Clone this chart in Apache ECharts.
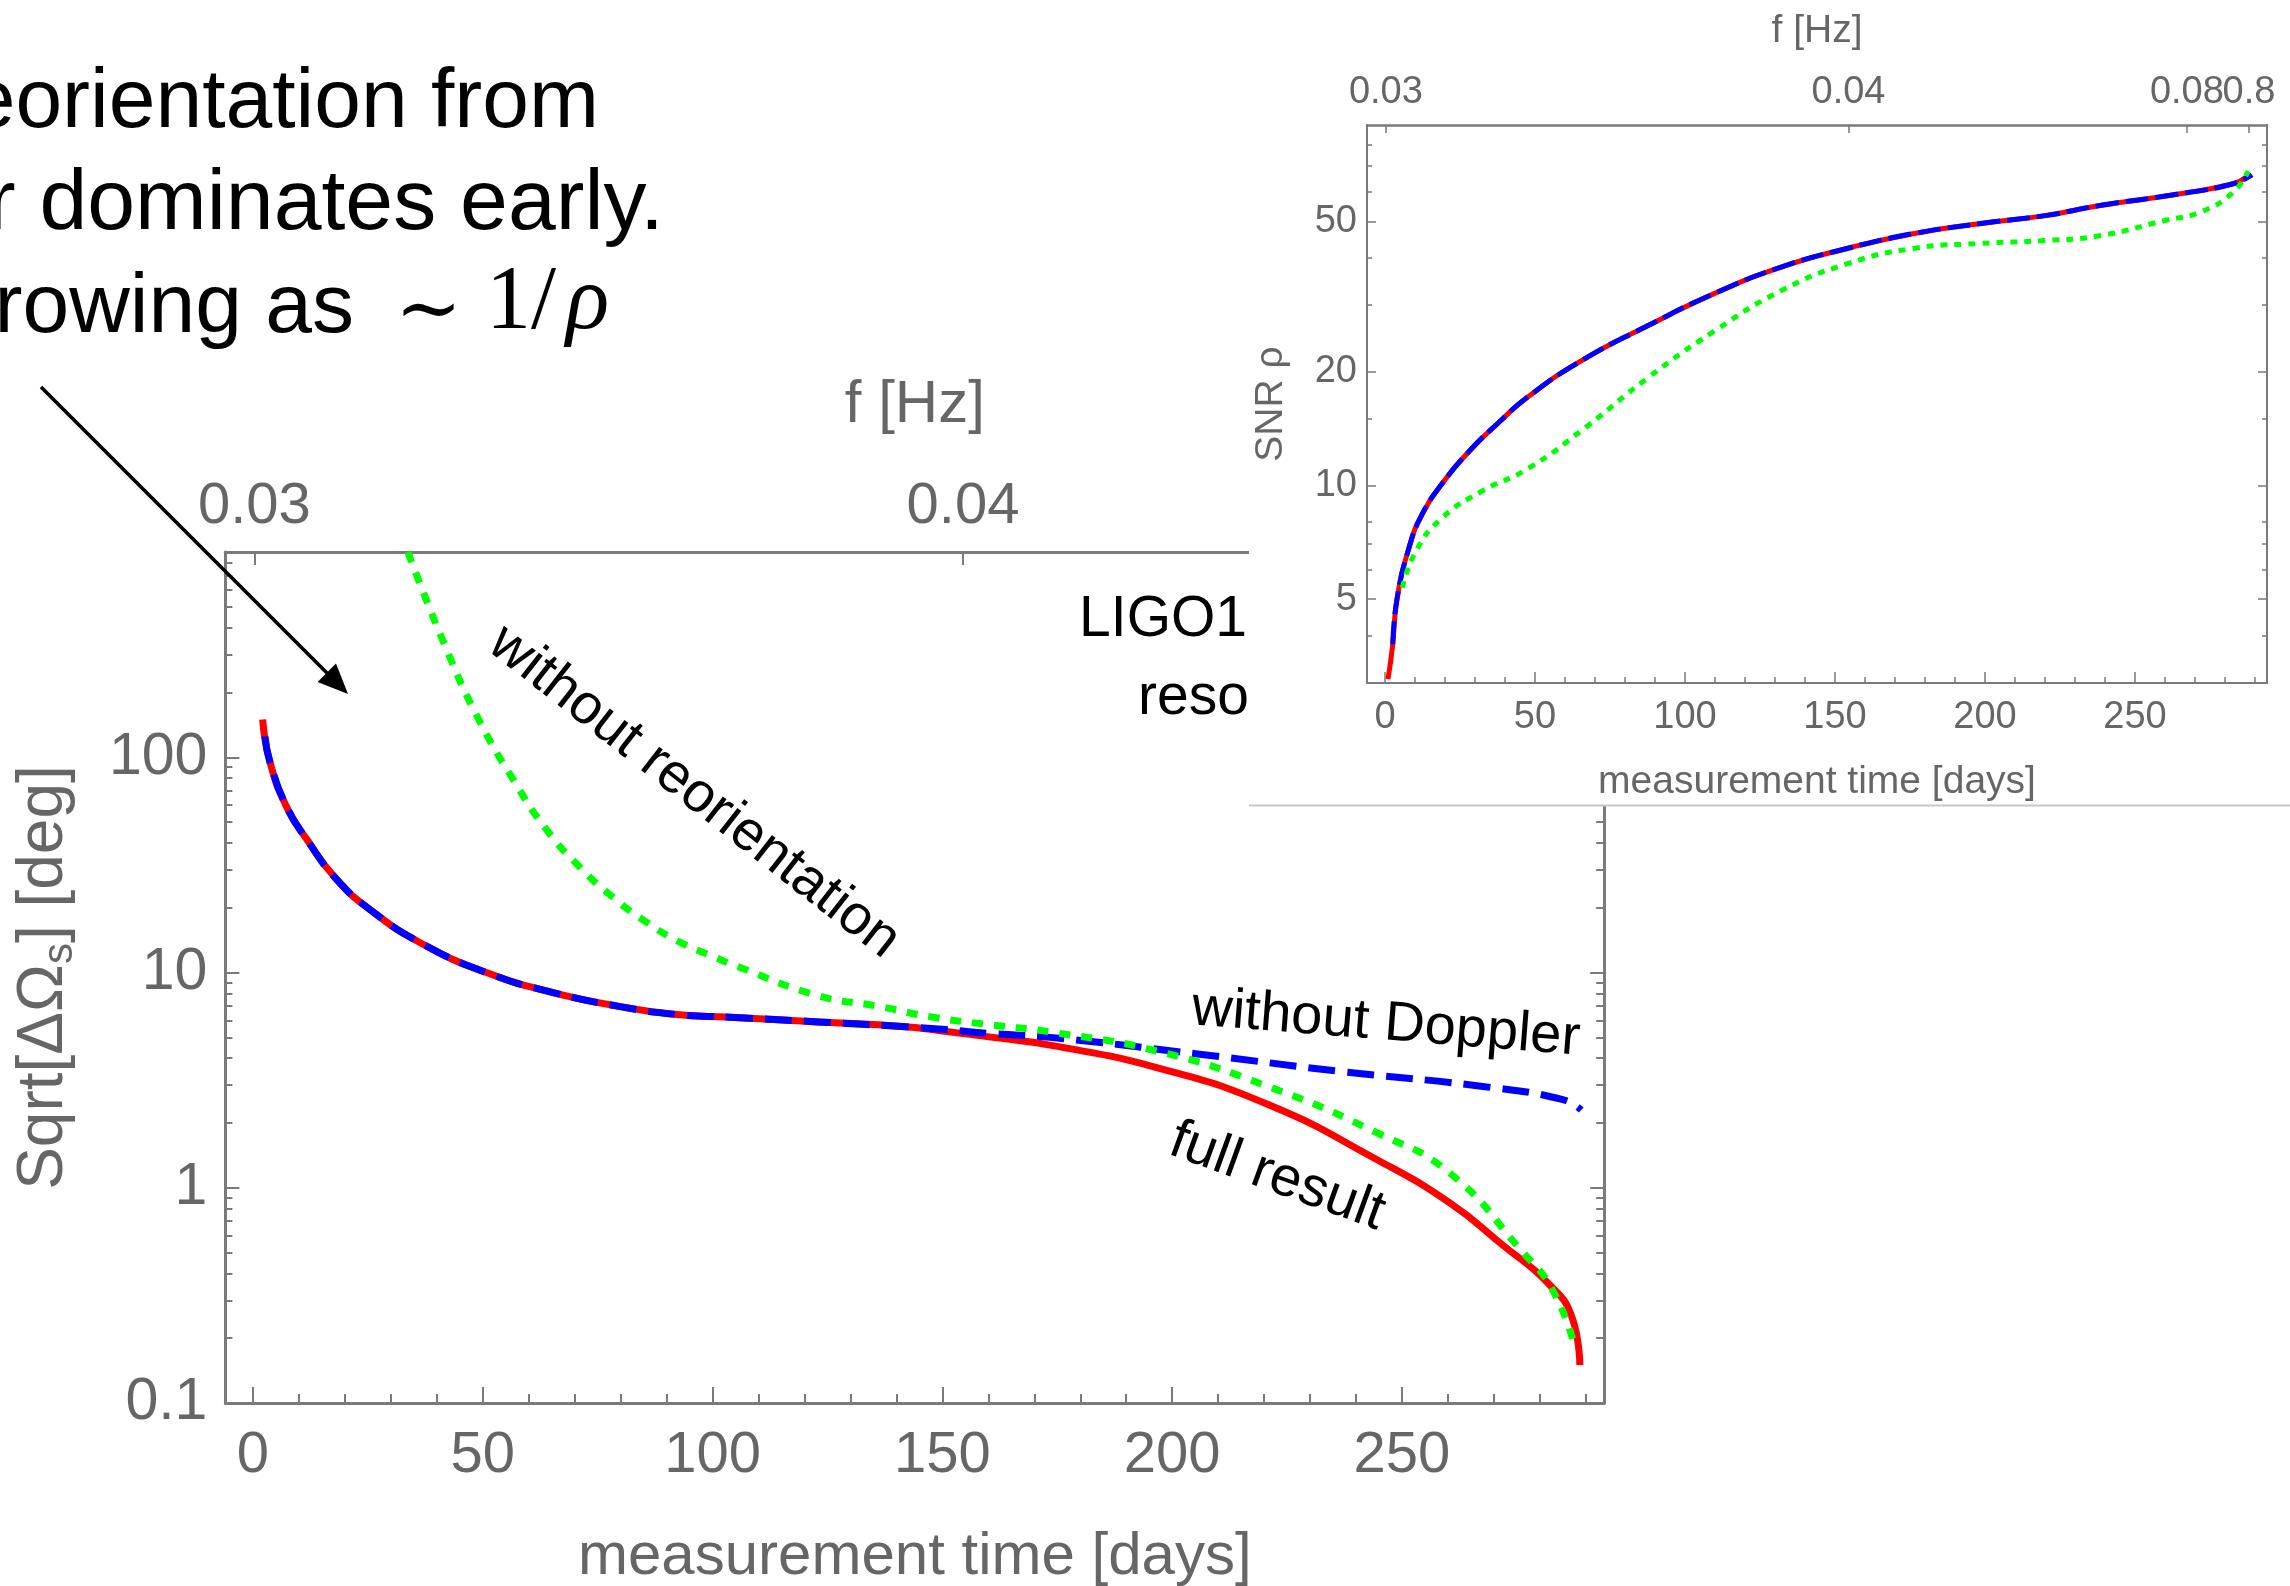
<!DOCTYPE html>
<html><head><meta charset="utf-8">
<script src="https://cdn.jsdelivr.net/npm/echarts@6/dist/echarts.min.js"></script>
<style>html,body{margin:0;padding:0;background:#fff;overflow:hidden}#c{width:2290px;height:1586px}</style>
</head><body><div id="c"></div>
<script>
// ---------------- data (main panel: sky localization) ----------------
const fullDays = [2.1, 3.7, 7.3, 11.7, 18.2, 25.5, 36.3, 50.8, 65.3, 79.9, 92.2, 103.8, 123, 142, 150, 161, 173.4, 197, 221, 244.6, 260.4, 272, 281.8, 287, 288.7];
const fullVals = [150, 95, 59, 41.6, 27.1, 19.6, 13.8, 10.0, 8.07, 6.95, 6.38, 6.2, 5.9, 5.6, 5.35, 5.0, 4.6, 3.6, 2.43, 1.35, 0.85, 0.54, 0.36, 0.25, 0.15];
const noDopDays = [2.6, 3.7, 7.3, 11.7, 18.2, 25.5, 36.3, 50.8, 65.3, 79.9, 92.2, 103.8, 123, 142, 150, 161, 173.4, 205, 236.7, 268, 285, 289];
const noDopVals = [125, 95, 59, 41.6, 27.1, 19.6, 13.8, 10.0, 8.07, 6.95, 6.38, 6.2, 5.9, 5.6, 5.45, 5.2, 5.0, 4.2, 3.47, 2.95, 2.57, 2.3];
const noReoDays = [33.7, 42.1, 49.4, 56.6, 63.9, 71.2, 78.4, 85.7, 93, 100, 105.3, 123, 135.6, 148, 161, 173.4, 197, 221, 244.6, 260.4, 276, 282.6, 287.4];
const noReoVals = [900, 318, 146, 79, 46, 30.8, 22.3, 17.1, 13.8, 11.9, 10.7, 7.8, 7.0, 6.2, 5.7, 5.3, 4.3, 2.95, 1.8, 1.17, 0.51, 0.34, 0.19];

// ---------------- data (inset: SNR) ----------------
const snrFullDays = [1.0, 2.5, 4, 8, 12.4, 19, 28, 38, 47.8, 65.5, 87.7, 109.7, 131.8, 154, 176, 198, 220, 238.3, 264, 282.7, 287];
const snrFullVals = [3.07, 3.75, 5.0, 6.84, 8.4, 10.1, 12.3, 14.7, 17.2, 21.4, 26.5, 32.2, 37.8, 42.4, 46.4, 49.3, 51.8, 55.1, 59.0, 62.9, 65.5];
const snrNoDopDays = [2.6, 4, 8, 12.4, 19, 28, 38, 47.8, 65.5, 87.7, 109.7, 131.8, 154, 176, 198, 220, 238.3, 264, 282.7, 289];
const snrNoDopVals = [3.8, 5.0, 6.84, 8.4, 10.1, 12.3, 14.7, 17.2, 21.4, 26.5, 32.2, 37.8, 42.4, 46.4, 49.3, 51.8, 55.1, 59.0, 62.9, 66.5];
const snrNoReoDays = [5.8, 10.3, 19, 32.3, 47.8, 66.6, 87.7, 109.7, 131.8, 154, 176, 198, 220, 238, 260, 271.7, 282.7, 287.7];
const snrNoReoVals = [5.36, 6.7, 8.2, 9.66, 11.1, 14.2, 19.3, 25.6, 32.7, 38.6, 42.4, 43.7, 44.5, 45.8, 50.3, 52.9, 59.7, 68];

// ---------------- ticks ----------------
const dayTicks = [0, 50, 100, 150, 200, 250];
const dayMinorTicks = [10, 20, 30, 40, 60, 70, 80, 90, 110, 120, 130, 140, 160, 170, 180, 190, 210, 220, 230, 240, 260, 270, 280, 290];
const mainFreqLabels = ['0.03', '0.04'];
const mainFreqDays = [0.3, 154.5];
const insetFreqLabels = ['0.03', '0.04', '0.08'];
const insetFreqDays = [0.3, 154.5, 267.3];
const insetFreqLabels2 = ['0.8'];
const insetFreqDays2 = [288];
const mainYTicks = [0.1, 1, 10, 100];
const mainYLabels = ['0.1', '1', '10', '100'];
const mainYMinor = [0.2,0.3,0.4,0.5,0.6,0.7,0.8,0.9, 2,3,4,5,6,7,8,9, 20,30,40,50,60,70,80,90, 200,300,400,500,600,700,800];
const insetYTicks = [5, 10, 20, 50];
const insetYLabels = ['5', '10', '20', '50'];
const insetYMinor = [4, 6, 7, 8, 15, 30, 40, 60, 70, 80];

const zip = (a, b) => a.map((x, i) => [x, b[i]]);
const FONT = '"Liberation Sans", Arial, Helvetica, sans-serif';
const AX = '#7a7a7a', LAB = '#666666';

const mainGrid = {left: 225.4, top: 552, width: 1378.8, height: 851};
const insetGrid = {left: 1367, top: 125, width: 900, height: 558};

function lookup(vals, labels) {
  return function (v) {
    let best = 0, bd = Infinity;
    vals.forEach((x, i) => { const d = Math.abs(Math.log(x) - Math.log(v)); if (d < bd) { bd = d; best = i; } });
    return labels[best];
  };
}
function lookupLin(vals, labels) {
  return function (v) {
    let best = 0, bd = Infinity;
    vals.forEach((x, i) => { const d = Math.abs(x - v); if (d < bd) { bd = d; best = i; } });
    return labels[best];
  };
}

function topAxis(grid, days, labels, z, fs, margin, len, lw, name, nameGap, nfs) {
  const a = {type: 'value', gridIndex: grid, min: -6, max: 294, position: 'top', z: z, splitLine: {show: false},
   axisLine: {show: !!name, onZero: false, lineStyle: {color: AX, width: lw + 1}},
   axisTick: {show: true, inside: true, length: len, customValues: days, lineStyle: {color: AX, width: lw}},
   axisLabel: {show: true, customValues: days, formatter: lookupLin(days, labels), fontSize: fs, color: LAB, fontFamily: FONT, margin: margin, hideOverlap: false}};
  if (name) {
    a.name = name; a.nameLocation = 'middle'; a.nameGap = nameGap;
    a.nameTextStyle = {fontSize: nfs, color: LAB, fontFamily: FONT};
  }
  return a;
}

const xAxes = [
  // 0 main bottom major
  {type: 'value', gridIndex: 0, min: -6, max: 294, position: 'bottom', splitLine: {show: false},
   axisLine: {show: true, onZero: false, lineStyle: {color: AX, width: 3}},
   axisTick: {show: true, inside: true, length: 16, customValues: dayTicks, lineStyle: {color: AX, width: 2}},
   axisLabel: {show: true, customValues: dayTicks, fontSize: 58, color: LAB, fontFamily: FONT, margin: 24, hideOverlap: false},
   name: 'measurement time [days]', nameLocation: 'middle', nameGap: 124,
   nameTextStyle: {fontSize: 60, color: LAB, fontFamily: FONT}},
  // 1 main bottom minor
  {type: 'value', gridIndex: 0, min: -6, max: 294, position: 'bottom', splitLine: {show: false},
   axisLine: {show: false, onZero: false},
   axisTick: {show: true, inside: true, length: 9, customValues: dayMinorTicks, lineStyle: {color: AX, width: 2}},
   axisLabel: {show: false}},
  // 2 main top (frequency)
  topAxis(0, mainFreqDays, mainFreqLabels, 0, 58, 16, 13, 2, 'f [Hz]', 117, 60),
  // 3 inset bottom major
  {type: 'value', gridIndex: 1, min: -6, max: 294, position: 'bottom', z: 20, splitLine: {show: false},
   axisLine: {show: true, onZero: false, lineStyle: {color: AX, width: 2}},
   axisTick: {show: true, inside: true, length: 11, customValues: dayTicks, lineStyle: {color: AX, width: 1.5}},
   axisLabel: {show: true, customValues: dayTicks, fontSize: 38, color: LAB, fontFamily: FONT, margin: 16, hideOverlap: false},
   name: 'measurement time [days]', nameLocation: 'middle', nameGap: 80,
   nameTextStyle: {fontSize: 39, color: LAB, fontFamily: FONT}},
  // 4 inset bottom minor
  {type: 'value', gridIndex: 1, min: -6, max: 294, position: 'bottom', z: 20, splitLine: {show: false},
   axisLine: {show: false, onZero: false},
   axisTick: {show: true, inside: true, length: 6, customValues: dayMinorTicks, lineStyle: {color: AX, width: 1.5}},
   axisLabel: {show: false}},
  // 5 inset top (frequency)
  topAxis(1, insetFreqDays, insetFreqLabels, 20, 38, 13, 8, 1.5, 'f [Hz]', 74, 39),
  // 6 inset top, last label (overlaps its neighbour in the original)
  topAxis(1, insetFreqDays2, insetFreqLabels2, 20, 38, 13, 8, 1.5, null)
];

function yAx(o) {
  const base = {type: 'log', logBase: 10, splitLine: {show: false}, axisLine: {show: false, onZero: false}, axisLabel: {show: false}};
  return Object.assign(base, o);
}

const yAxes = [
  // 0 main left major
  yAx({gridIndex: 0, min: 0.1, max: 900, position: 'left',
   axisLine: {show: true, onZero: false, lineStyle: {color: AX, width: 3}},
   axisTick: {show: true, inside: true, length: 14, customValues: mainYTicks, lineStyle: {color: AX, width: 2}},
   axisLabel: {show: true, customValues: mainYTicks, formatter: lookup(mainYTicks, mainYLabels), fontSize: 59, color: LAB, fontFamily: FONT, margin: 18, hideOverlap: false},
   name: 'Sqrt[ΔΩ{s|s}] [deg]', nameLocation: 'middle', nameGap: 144, nameRotate: 90,
   nameTextStyle: {fontSize: 64, color: LAB, fontFamily: FONT, rich: {s: {fontSize: 42, color: LAB, fontFamily: FONT, padding: [32, 0, 0, 0]}}}}),
  // 1 main left minor
  yAx({gridIndex: 0, min: 0.1, max: 900, position: 'left',
   axisTick: {show: true, inside: true, length: 7, customValues: mainYMinor, lineStyle: {color: AX, width: 2}}}),
  // 2 main right major
  yAx({gridIndex: 0, min: 0.1, max: 900, position: 'right',
   axisLine: {show: true, onZero: false, lineStyle: {color: AX, width: 3}},
   axisTick: {show: true, inside: true, length: 14, customValues: mainYTicks, lineStyle: {color: AX, width: 2}}}),
  // 3 main right minor
  yAx({gridIndex: 0, min: 0.1, max: 900, position: 'right',
   axisTick: {show: true, inside: true, length: 8, customValues: mainYMinor, lineStyle: {color: AX, width: 2}}}),
  // 4 inset left major
  yAx({gridIndex: 1, min: 3, max: 90, position: 'left', z: 20,
   axisLine: {show: true, onZero: false, lineStyle: {color: AX, width: 2}},
   axisTick: {show: true, inside: true, length: 9, customValues: insetYTicks, lineStyle: {color: AX, width: 1.5}},
   axisLabel: {show: true, customValues: insetYTicks, formatter: lookup(insetYTicks, insetYLabels), fontSize: 38, color: LAB, fontFamily: FONT, margin: 10, hideOverlap: false},
   name: 'SNR ρ', nameLocation: 'middle', nameGap: 76, nameRotate: 90,
   nameTextStyle: {fontSize: 39, color: LAB, fontFamily: FONT}}),
  // 5 inset left minor
  yAx({gridIndex: 1, min: 3, max: 90, position: 'left', z: 20,
   axisTick: {show: true, inside: true, length: 5, customValues: insetYMinor, lineStyle: {color: AX, width: 1.5}}}),
  // 6 inset right major
  yAx({gridIndex: 1, min: 3, max: 90, position: 'right', z: 20,
   axisLine: {show: true, onZero: false, lineStyle: {color: AX, width: 2}},
   axisTick: {show: true, inside: true, length: 9, customValues: insetYTicks, lineStyle: {color: AX, width: 1.5}}}),
  // 7 inset right minor
  yAx({gridIndex: 1, min: 3, max: 90, position: 'right', z: 20,
   axisTick: {show: true, inside: true, length: 5, customValues: insetYMinor, lineStyle: {color: AX, width: 1.5}}})
];

function lineSeries(xi, yi, days, vals, color, width, type, z) {
  return {type: 'line', xAxisIndex: xi, yAxisIndex: yi, data: zip(days, vals), showSymbol: false, symbol: 'none',
    smooth: 0.5, silent: true, z: z, clip: true,
    lineStyle: {color: color, width: width, type: type, cap: 'butt', join: 'round'}};
}

const series = [
  lineSeries(0, 0, fullDays, fullVals, '#ff0000', 7, 'solid', 2),
  lineSeries(0, 0, noDopDays, noDopVals, '#0000ff', 7, [27, 12], 3),
  lineSeries(0, 0, noReoDays, noReoVals, '#00ff00', 7, [11, 11], 4),
  lineSeries(3, 4, snrFullDays, snrFullVals, '#ff0000', 5, 'solid', 21),
  lineSeries(3, 4, snrNoDopDays, snrNoDopVals, '#0000ff', 5, [23, 7], 22),
  lineSeries(3, 4, snrNoReoDays, snrNoReoVals, '#00ff00', 5, [7, 7], 23)
];

const TXT = '"Liberation Sans", Arial, Helvetica, sans-serif';
const graphic = [
  // annotation text (top-left, clipped by the page edge)
  {type: 'text', z: 5, style: {text: 'eorientation from', x: 599, y: 104, textAlign: 'right', textVerticalAlign: 'middle', font: '84px ' + TXT, fill: '#000'}},
  {type: 'text', z: 5, style: {text: 'r dominates early.', x: 664, y: 205, textAlign: 'right', textVerticalAlign: 'middle', font: '86px ' + TXT, fill: '#000'}},
  {type: 'text', z: 5, style: {text: 'rowing as', x: 354, y: 309, textAlign: 'right', textVerticalAlign: 'middle', font: '84px ' + TXT, fill: '#000'}},
  {type: 'text', z: 5, style: {text: '∼', x: 395, y: 314, textAlign: 'left', textVerticalAlign: 'middle', font: '80px "DejaVu Serif", serif', fill: '#000'}},
  {type: 'text', z: 5, style: {text: '1/', x: 486, y: 304, textAlign: 'left', textVerticalAlign: 'middle', font: '90px "Liberation Serif", serif', fill: '#000'}},
  {type: 'text', z: 5, style: {text: 'ρ', x: 566, y: 304, textAlign: 'left', textVerticalAlign: 'middle', font: 'italic 90px "Liberation Serif", serif', fill: '#000'}},
  // arrow
  {type: 'line', z: 5, shape: {x1: 41, y1: 387, x2: 330, y2: 676}, style: {stroke: '#000', lineWidth: 3.5}},
  {type: 'polygon', z: 5, shape: {points: [[348, 694], [336, 663.6], [317.6, 682]]}, style: {fill: '#000'}},
  // curve labels
  {type: 'text', z: 5, x: 694, y: 792, rotation: -38 * Math.PI / 180,
   style: {text: 'without reorientation', x: 0, y: 0, textAlign: 'center', textVerticalAlign: 'middle', font: '56px ' + TXT, fill: '#000'}},
  {type: 'text', z: 5, x: 1386, y: 1024, rotation: -4.5 * Math.PI / 180,
   style: {text: 'without Doppler', x: 0, y: 0, textAlign: 'center', textVerticalAlign: 'middle', font: '56px ' + TXT, fill: '#000'}},
  {type: 'text', z: 5, x: 1277, y: 1177, rotation: -20 * Math.PI / 180,
   style: {text: 'full result', x: 0, y: 0, textAlign: 'center', textVerticalAlign: 'middle', font: '56px ' + TXT, fill: '#000'}},
  {type: 'text', z: 5, style: {text: 'LIGO1', x: 1247, y: 620, textAlign: 'right', textVerticalAlign: 'middle', font: '57px ' + TXT, fill: '#000'}},
  {type: 'text', z: 5, style: {text: 'reso', x: 1249, y: 698, textAlign: 'right', textVerticalAlign: 'middle', font: '57px ' + TXT, fill: '#000'}},
  // inset background and frame line
  {type: 'rect', z: 10, shape: {x: 1249, y: 0, width: 1041, height: 805}, style: {fill: '#ffffff'}},
  {type: 'line', z: 11, shape: {x1: 1249, y1: 805.5, x2: 2290, y2: 805.5}, style: {stroke: '#c8c8c8', lineWidth: 2}}
];

const chart = echarts.init(document.getElementById('c'), null, {renderer: 'canvas'});
chart.setOption({
  animation: false,
  backgroundColor: '#ffffff',
  grid: [
    Object.assign({containLabel: false, outerBoundsMode: 'none'}, mainGrid),
    Object.assign({z: 20, containLabel: false, outerBoundsMode: 'none'}, insetGrid)
  ],
  xAxis: xAxes,
  yAxis: yAxes,
  series: series,
  graphic: {elements: graphic}
});
</script>
</body></html>
